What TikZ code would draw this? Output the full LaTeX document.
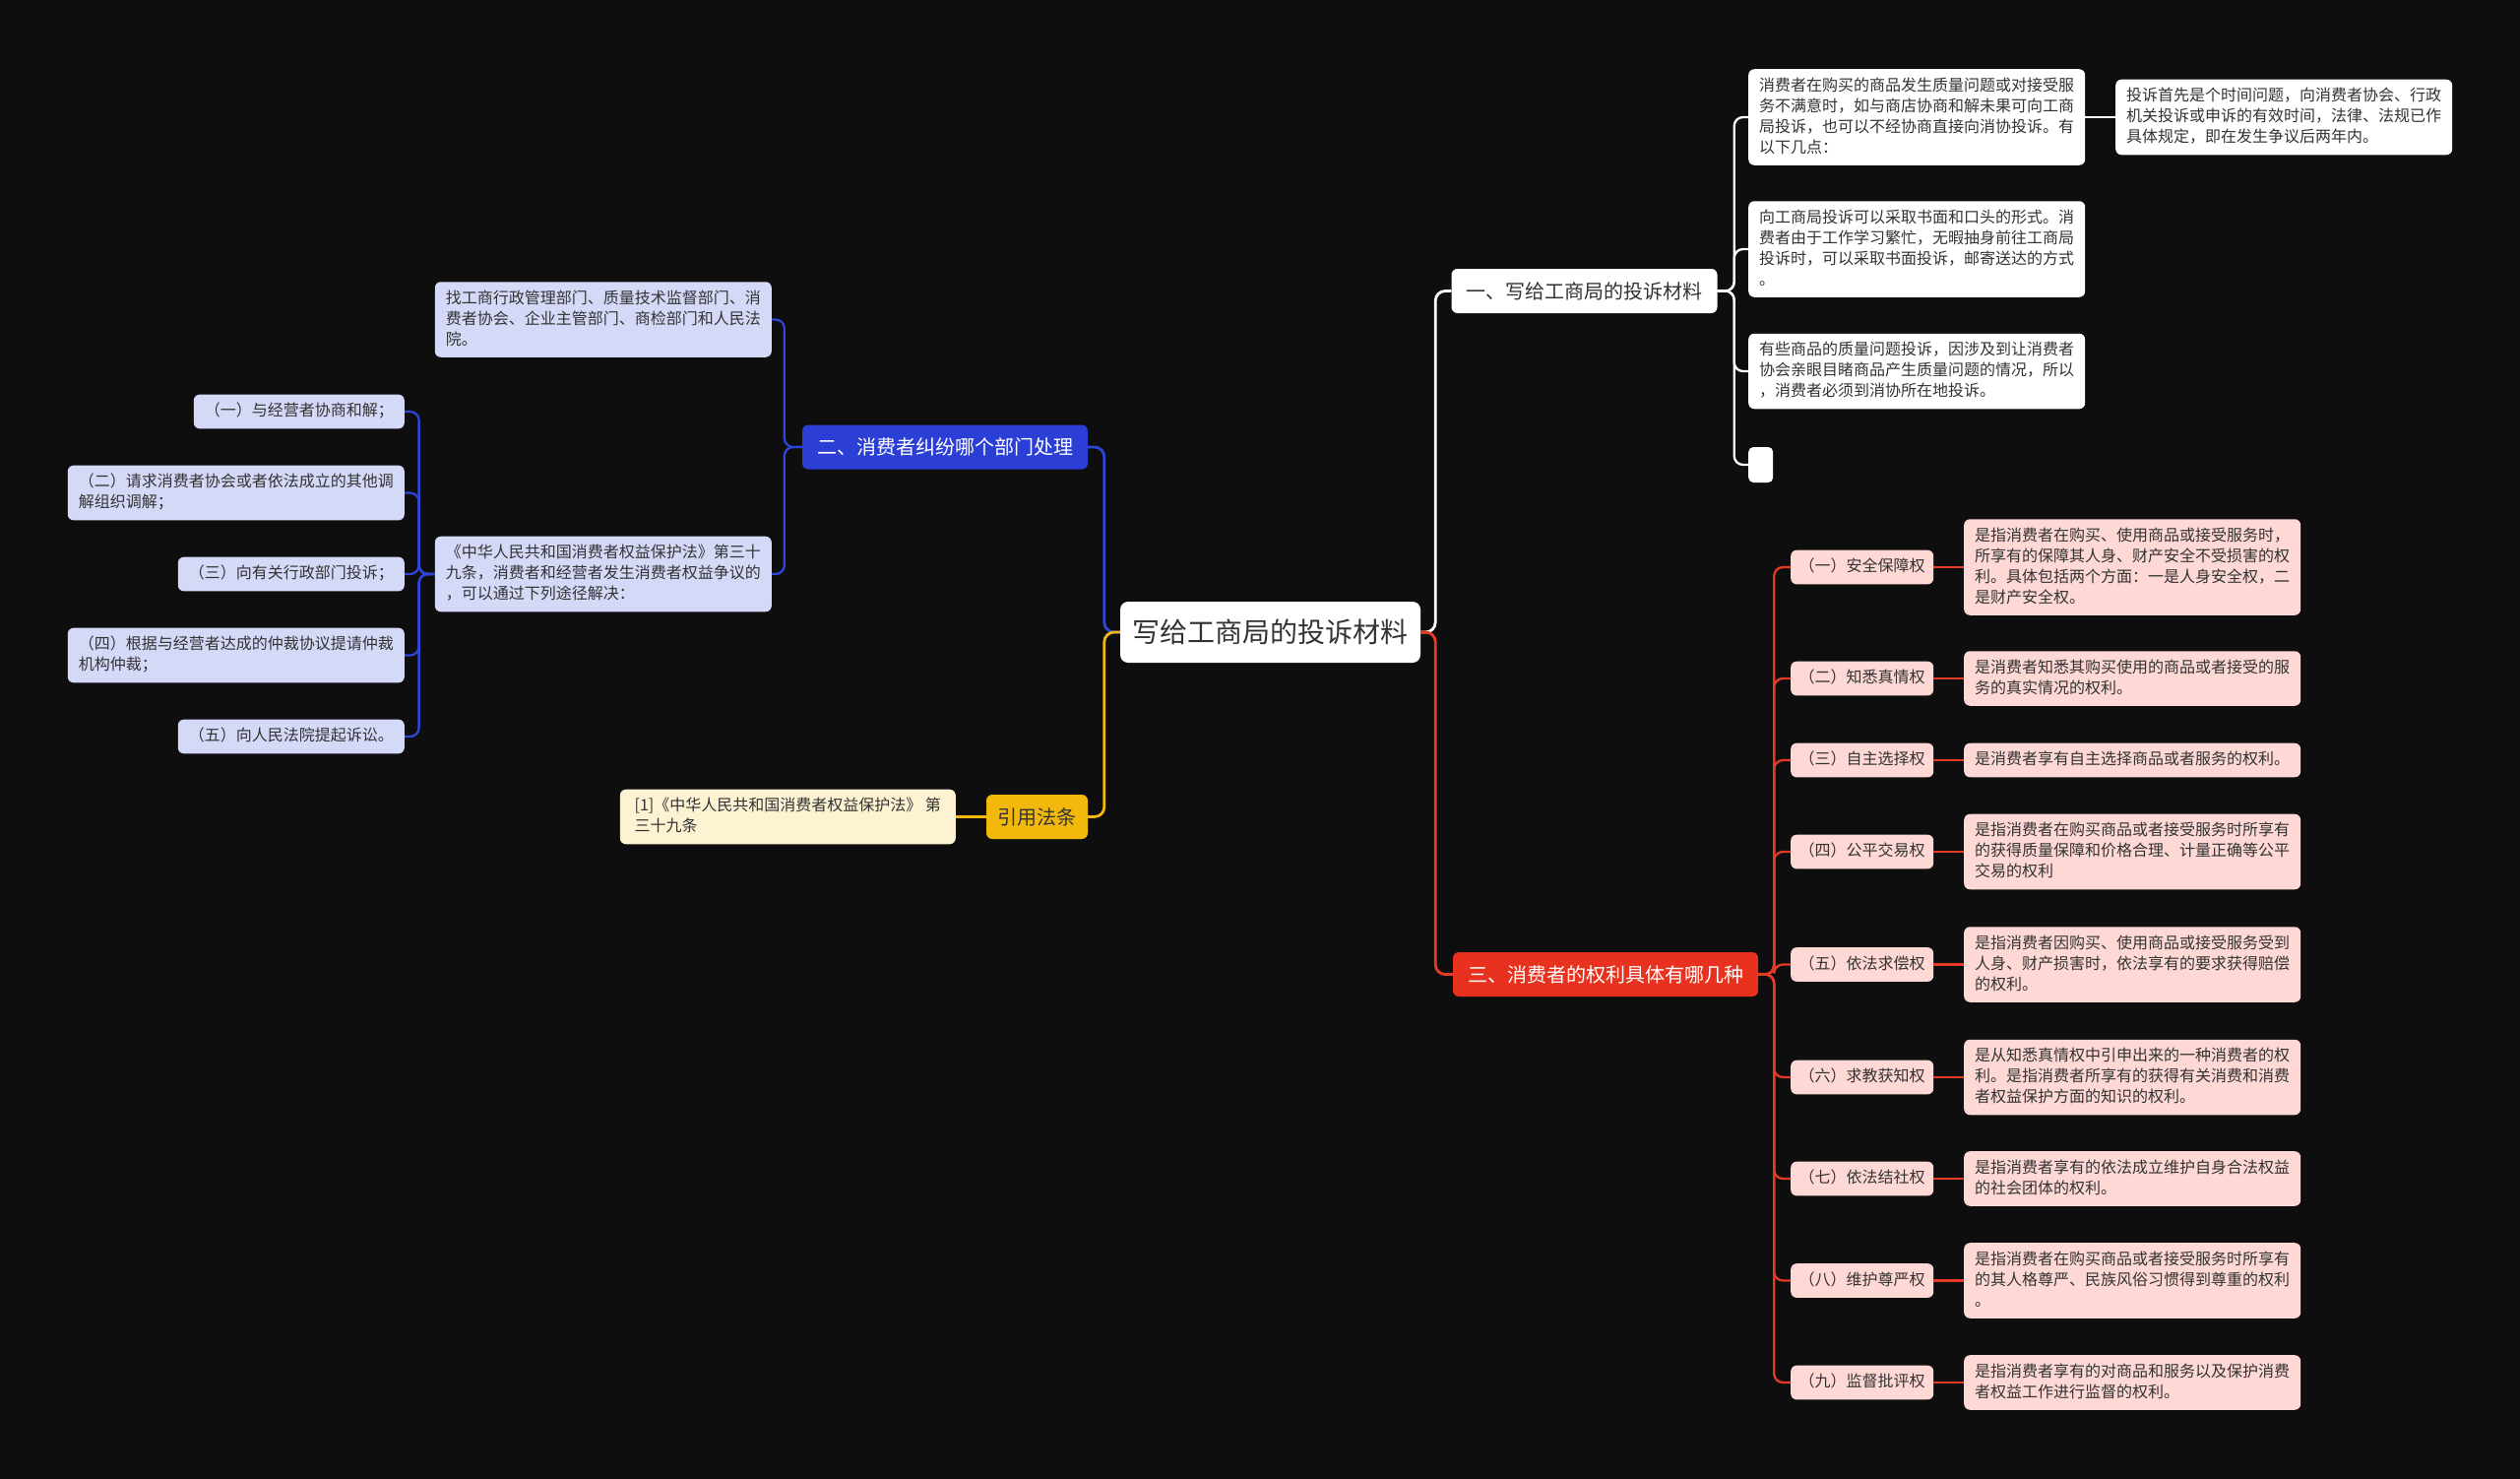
\documentclass[tikz,border=0pt]{standalone}
\usepackage{fontspec}
\setmainfont{Noto Sans CJK SC}
\definecolor{bg}{HTML}{0E0E0E}
\definecolor{txt}{HTML}{333333}
\definecolor{bblue}{HTML}{2B3FD6}
\definecolor{lblue}{HTML}{D5D9F8}
\definecolor{byel}{HTML}{F2B90C}
\definecolor{lyel}{HTML}{FDF3D3}
\definecolor{bred}{HTML}{E8321F}
\definecolor{lred}{HTML}{FDD8D4}
\definecolor{redline}{HTML}{E53A26}
\definecolor{blueline}{HTML}{2E45D8}
\newcommand\mystrut{\rule[-4pt]{0pt}{15pt}}
\begin{document}
\begin{tikzpicture}[x=1pt,y=-1pt,
  leaf/.style={rounded corners=6pt, inner xsep=11pt, inner ysep=8.5pt, align=left,
    font=\fontsize{16}{21}\selectfont, text=txt,
    execute at begin node=\mystrut, execute at end node=\mystrut},
  wleaf/.style={leaf, fill=white},
  bleaf/.style={leaf, fill=lblue},
  yleaf/.style={leaf, fill=lyel},
  rleaf/.style={leaf, fill=lred},
  branch/.style={rounded corners=6pt, inner xsep=15pt, inner ysep=0pt, minimum height=45pt,
    font=\fontsize{20}{26}\selectfont},
  conn/.style={line width=2.8pt, rounded corners=10pt},
  sconn/.style={line width=2.3pt, rounded corners=9pt}
]
\useasboundingbox (0,0) rectangle (2560,1502);
\fill[bg] (0,0) rectangle (2560,1502);

% center
\node[fill=white, rounded corners=8pt, minimum width=305pt, minimum height=62pt, inner sep=0pt,
  font=\fontsize{28}{34}\selectfont, text=txt] (C) at (1290.5,642) {写给工商局的投诉材料};

% main branches
\node[branch, fill=white, text=txt] (B1) at (1609.5,295.5) {一、写给工商局的投诉材料};
\node[branch, fill=bblue, text=white] (B2) at (960,454) {二、消费者纠纷哪个部门处理};
\node[branch, fill=byel, text=txt, inner xsep=11.5pt] (B4) at (1053.5,829.5) {引用法条};
\node[branch, fill=bred, text=white] (B3) at (1631,989.5) {三、消费者的权利具体有哪几种};

% branch 1 children
\node[wleaf, anchor=west] (W1) at (1776,119) {消费者在购买的商品发生质量问题或对接受服\\务不满意时，如与商店协商和解未果可向工商\\局投诉，也可以不经协商直接向消协投诉。有\\以下几点：};
\node[wleaf, anchor=west] (W1a) at (2149,119) {投诉首先是个时间问题，向消费者协会、行政\\机关投诉或申诉的有效时间，法律、法规已作\\具体规定，即在发生争议后两年内。};
\node[wleaf, anchor=west] (W2) at (1776,253) {向工商局投诉可以采取书面和口头的形式。消\\费者由于工作学习繁忙，无暇抽身前往工商局\\投诉时，可以采取书面投诉，邮寄送达的方式\\。};
\node[wleaf, anchor=west] (W3) at (1776,377) {有些商品的质量问题投诉，因涉及到让消费者\\协会亲眼目睹商品产生质量问题的情况，所以\\，消费者必须到消协所在地投诉。};
\node[fill=white, rounded corners=5pt, minimum width=25pt, minimum height=36pt, inner sep=0pt, anchor=west] (W4) at (1776,472) {};

% branch 2 children
\node[bleaf, anchor=east] (L1) at (784,324.5) {找工商行政管理部门、质量技术监督部门、消\\费者协会、企业主管部门、商检部门和人民法\\院。};
\node[bleaf, anchor=east] (L2) at (784,583) {《中华人民共和国消费者权益保护法》第三十\\九条，消费者和经营者发生消费者权益争议的\\，可以通过下列途径解决：};
\node[bleaf, anchor=east] (I1) at (411,418) {（一）与经营者协商和解；};
\node[bleaf, anchor=east] (I2) at (411,500.5) {（二）请求消费者协会或者依法成立的其他调\\解组织调解；};
\node[bleaf, anchor=east] (I3) at (411,583) {（三）向有关行政部门投诉；};
\node[bleaf, anchor=east] (I4) at (411,665.5) {（四）根据与经营者达成的仲裁协议提请仲裁\\机构仲裁；};
\node[bleaf, anchor=east] (I5) at (411,748) {（五）向人民法院提起诉讼。};

% branch 4 child
\node[yleaf, anchor=east, inner xsep=9pt, minimum width=341pt] (Y1) at (971,829.5) {[1]《中华人民共和国消费者权益保护法》 第\\三十九条};

% branch 3 children
\foreach \n/\y/\t in {1/576/（一）安全保障权, 2/689/（二）知悉真情权, 3/772/（三）自主选择权,
  4/865/（四）公平交易权, 5/979.5/（五）依法求偿权, 6/1094/（六）求教获知权,
  7/1197/（七）依法结社权, 8/1300.5/（八）维护尊严权, 9/1404/（九）监督批评权}
  \node[rleaf, inner xsep=8.5pt, anchor=west] (R\n) at (1819,\y) {\t};

\node[rleaf, anchor=west] (D1) at (1995,576) {是指消费者在购买、使用商品或接受服务时，\\所享有的保障其人身、财产安全不受损害的权\\利。具体包括两个方面：一是人身安全权，二\\是财产安全权。};
\node[rleaf, anchor=west] (D2) at (1995,689) {是消费者知悉其购买使用的商品或者接受的服\\务的真实情况的权利。};
\node[rleaf, anchor=west] (D3) at (1995,772) {是消费者享有自主选择商品或者服务的权利。};
\node[rleaf, anchor=west] (D4) at (1995,865) {是指消费者在购买商品或者接受服务时所享有\\的获得质量保障和价格合理、计量正确等公平\\交易的权利};
\node[rleaf, anchor=west] (D5) at (1995,979.5) {是指消费者因购买、使用商品或接受服务受到\\人身、财产损害时，依法享有的要求获得赔偿\\的权利。};
\node[rleaf, anchor=west] (D6) at (1995,1094) {是从知悉真情权中引申出来的一种消费者的权\\利。是指消费者所享有的获得有关消费和消费\\者权益保护方面的知识的权利。};
\node[rleaf, anchor=west] (D7) at (1995,1197) {是指消费者享有的依法成立维护自身合法权益\\的社会团体的权利。};
\node[rleaf, anchor=west] (D8) at (1995,1300.5) {是指消费者在购买商品或者接受服务时所享有\\的其人格尊严、民族风俗习惯得到尊重的权利\\。};
\node[rleaf, anchor=west] (D9) at (1995,1404) {是指消费者享有的对商品和服务以及保护消费\\者权益工作进行监督的权利。};

% connectors from center
\draw[conn, white] (C.east) -- ([xshift=15pt]C.east) |- (B1.west);
\draw[conn, redline] (C.east) -- ([xshift=15pt]C.east) |- (B3.west);
\draw[conn, blueline] (C.west) -- ([xshift=-16pt]C.west) |- (B2.east);
\draw[conn, byel] (C.west) -- ([xshift=-16pt]C.west) |- (B4.east);

% branch 1
\foreach \c in {W1,W2,W3,W4}
  \draw[sconn, white] (B1.east) -- ([xshift=17pt]B1.east) |- (\c.west);
\draw[sconn, white] (W1.east) -- (W1a.west);

% branch 2
\foreach \c in {L1,L2}
  \draw[sconn, blueline] (B2.west) -- ([xshift=-18pt]B2.west) |- (\c.east);
\foreach \c in {I1,I2,I3,I4,I5}
  \draw[sconn, blueline] (L2.west) -- ([xshift=-16pt]L2.west) |- (\c.east);

% branch 4
\draw[sconn, byel] (B4.west) -- (Y1.east);

% branch 3
\foreach \n in {1,...,9}{
  \draw[sconn, redline] (B3.east) -- ([xshift=16pt]B3.east) |- (R\n.west);
  \draw[sconn, redline] (R\n.east) -- (D\n.west);
}
\end{tikzpicture}
\end{document}
